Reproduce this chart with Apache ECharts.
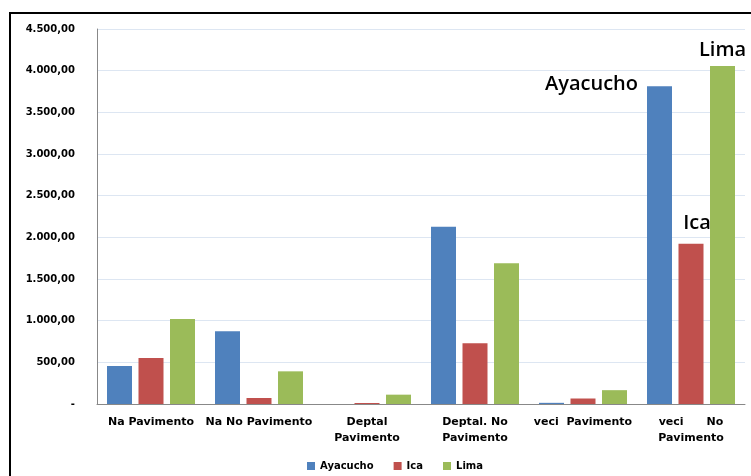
<!DOCTYPE html>
<html><head><meta charset="utf-8">
<script src="https://cdn.jsdelivr.net/npm/echarts@6/dist/echarts.min.js"></script>
<style>html,body{margin:0;padding:0;background:#fff}#c{width:751px;height:476px}</style>
</head><body><div id="c"></div>
<script>
const categories = ['Na Pavimento', 'Na No Pavimento', 'Deptal\nPavimento', 'Deptal. No\nPavimento', 'veci  Pavimento', 'veci      No\nPavimento'];
const seriesNames = ['Ayacucho', 'Ica', 'Lima'];
const ayacucho = [456, 872, 0, 2128, 14, 3813];
const ica = [552, 72, 12, 729, 66, 1922];
const lima = [1019, 392, 112, 1688, 166, 4056];
const colors = ['#4f81bd', '#c0504d', '#9bbb59'];

function fmt(v) {
  if (v === 0) return '-';
  const parts = v.toFixed(2).split('.');
  return parts[0].replace(/\B(?=(\d{3})+(?!\d))/g, '.') + ',' + parts[1];
}
const annot = [
  { position: [-9, -2], align: 'right', verticalAlign: 'middle' },
  { position: 'top', distance: 11, offset: [6, 0] },
  { position: 'top', distance: 6 }
];
const values = [ayacucho, ica, lima];
const series = values.map((arr, si) => ({
  name: seriesNames[si],
  type: 'bar',
  barWidth: 25,
  barGap: '26%',
  itemStyle: { color: colors[si] },
  data: arr.map((v, i) => i === arr.length - 1 ? {
    value: v,
    label: Object.assign({
      show: true, formatter: seriesNames[si], color: '#000',
      fontFamily: 'Open Sans', fontSize: 20, fontWeight: 600
    }, annot[si])
  } : v)
}));

const chart = echarts.init(document.getElementById('c'));
chart.setOption({
  animation: false,
  textStyle: { fontFamily: 'DejaVu Sans' },
  graphic: [{ type: 'rect', shape: { x: 10, y: 13, width: 800, height: 500 }, style: { fill: 'none', stroke: '#000', lineWidth: 2 }, silent: true }],
  grid: { left: 97, right: 6, top: 29, bottom: 72 },
  legend: {
    bottom: 0, left: 302, itemWidth: 8, itemHeight: 8, itemGap: 20,
    icon: 'rect',
    textStyle: { fontSize: 10, fontWeight: 'bold', fontFamily: 'DejaVu Sans', color: '#000' },
    data: seriesNames
  },
  xAxis: {
    type: 'category', data: categories,
    axisLine: { lineStyle: { color: '#888', width: 1 } },
    axisTick: { show: false },
    axisLabel: { interval: 0, fontSize: 11, fontWeight: 'bold', color: '#000', fontFamily: 'DejaVu Sans', lineHeight: 16, margin: 10 }
  },
  yAxis: {
    type: 'value', min: 0, max: 4500, interval: 500,
    axisLine: { show: true, lineStyle: { color: '#888', width: 1 } },
    axisTick: { show: false },
    splitLine: { lineStyle: { color: '#dde6f2', width: 1 } },
    axisLabel: { formatter: fmt, fontSize: 10, fontWeight: 'bold', color: '#000', margin: 22, fontFamily: 'DejaVu Sans' }
  },
  series: series
});
</script></body></html>
